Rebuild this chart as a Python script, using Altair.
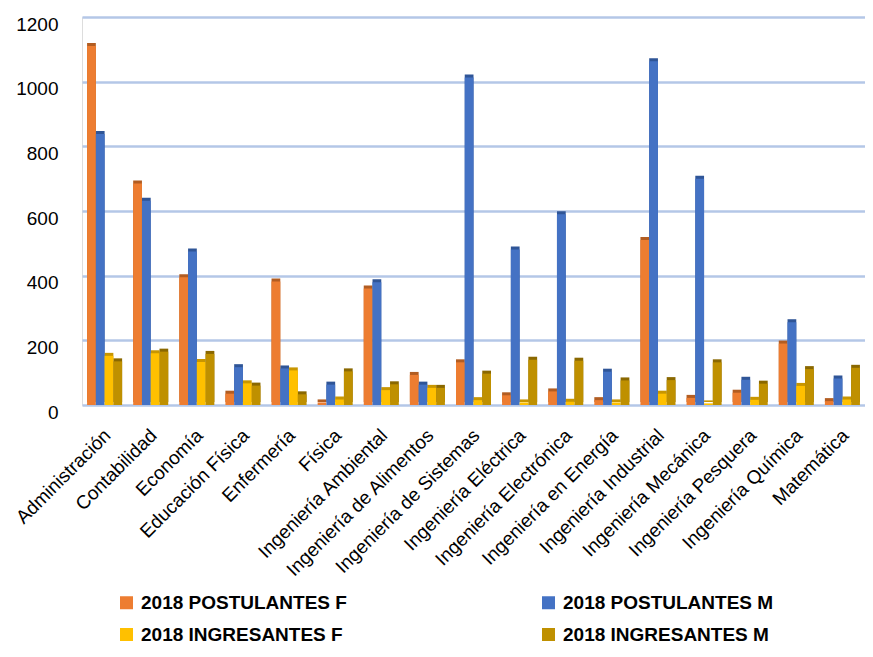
import altair as alt
import pandas as pd

categories = ["Administración", "Contabilidad", "Economía", "Educación Física", "Enfermería",
              "Física", "Ingeniería Ambiental", "Ingeniería de Alimentos", "Ingeniería de Sistemas",
              "Ingeniería Eléctrica", "Ingeniería Electrónica", "Ingeniería en Energía",
              "Ingeniería Industrial", "Ingeniería Mecánica", "Ingeniería Pesquera",
              "Ingeniería Química", "Matemática"]
series = ["2018 POSTULANTES F", "2018 POSTULANTES M", "2018 INGRESANTES F", "2018 INGRESANTES M"]
post_f = [1110, 685, 395, 35, 382, 8, 360, 93, 132, 30, 42, 15, 510, 22, 38, 190, 12]
post_m = [838, 632, 475, 117, 113, 63, 380, 63, 1013, 481, 590, 103, 1063, 700, 78, 256, 82]
ing_f = [152, 160, 133, 67, 107, 17, 46, 53, 15, 8, 10, 8, 35, 5, 16, 59, 17]
ing_m = [135, 165, 158, 60, 33, 104, 64, 53, 97, 140, 137, 76, 77, 132, 66, 111, 115]
colors = ["#ED7D31", "#4472C4", "#FFC000", "#BF9000"]
side_colors = ["#B25D22", "#2F5597", "#C89600", "#8A6800"]
y_ticks = [0, 200, 400, 600, 800, 1000, 1200]

rows = []
for s, vals in zip(series, [post_f, post_m, ing_f, ing_m]):
    for c, v in zip(categories, vals):
        rows.append({"carrera": c, "serie": s, "valor": v})
df = pd.DataFrame(rows)

x_enc = alt.X("carrera:N", sort=categories,
              scale=alt.Scale(paddingInner=0.24, paddingOuter=0.11),
              axis=alt.Axis(title=None, labelAngle=-45, labelAlign="right", labelBaseline="middle",
                            labelFont="Liberation Sans", labelFontSize=19, labelColor="#000000",
                            labelPadding=27, labelOffset=3, labelLimit=400,
                            ticks=False, domain=False, grid=False))
y_enc = alt.Y("valor:Q", scale=alt.Scale(domain=[0, 1200], nice=False),
              axis=alt.Axis(title=None, values=y_ticks, format="d", labelFont="Liberation Sans",
                            labelFontSize=19, labelColor="#000000", labelPadding=24, labelOffset=7,
                            ticks=False, domain=False, grid=True, gridColor="#B4C7E7", gridWidth=2.5))
xo = alt.XOffset("serie:N", sort=series, scale=alt.Scale(domain=series))

side = alt.Chart(df).mark_bar(xOffset=3, yOffset=-3).encode(
    x=x_enc, y=y_enc, xOffset=xo,
    color=alt.Color("serie:N", scale=alt.Scale(domain=series, range=side_colors), legend=None),
)
front = alt.Chart(df).mark_bar().encode(
    x=x_enc, y=y_enc, xOffset=xo,
    color=alt.Color("serie:N", scale=alt.Scale(domain=series, range=colors),
                    legend=alt.Legend(title=None, orient="none", legendX=35, legendY=576, columns=2,
                                      direction="horizontal",
                                      symbolType="square", symbolSize=169, symbolStrokeWidth=0,
                                      labelFont="Liberation Sans",
                                      labelFontSize=19, labelFontWeight="bold", labelColor="#000000",
                                      labelOffset=5, rowPadding=12, columnPadding=192, padding=0,
                                      labelLimit=400)),
)

chart = alt.layer(side, front).resolve_scale(color="independent").properties(
    width=783, height=388,
    autosize=alt.AutoSizeParams(type="none"),
    padding={"left": 74, "top": 9, "right": 0, "bottom": 243},
).configure_view(stroke=None).configure(background="white")

chart.save("out.html", embed_options={"renderer": "svg", "actions": False})
